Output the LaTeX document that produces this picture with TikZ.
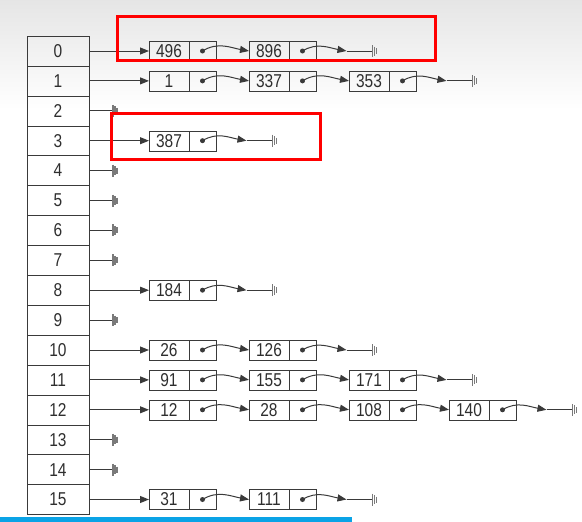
\documentclass[tikz,border=0pt]{standalone}
\usepackage{fontspec}
\usepackage{graphicx}
\setmainfont{Liberation Sans}
\usetikzlibrary{arrows.meta, positioning, calc}
\definecolor{linegray}{HTML}{3A3A3A}
\definecolor{textgray}{HTML}{2E2E2E}
\definecolor{nullgray}{HTML}{7A7A7A}
\definecolor{barblue}{HTML}{0AA3E6}
\newcommand{\tallnum}[1]{\scalebox{1}[1.2]{#1}}

\begin{document}
\begin{tikzpicture}[
        x=1pt, y=-1pt,
        cell/.style = {rectangle, draw=linegray, minimum width=62pt, minimum height=29.9pt,
                       inner sep=0pt, outer sep=0pt, text=textgray, font=\fontsize{15.5}{15.5}\selectfont},
        valbox/.style = {rectangle, draw=linegray, minimum width=40pt, minimum height=20pt,
                         inner sep=0pt, outer sep=0pt, text=textgray, font=\fontsize{15.5}{15.5}\selectfont},
        ptrbox/.style = {rectangle, draw=linegray, minimum width=27pt, minimum height=20pt,
                         inner sep=0pt, outer sep=0pt},
        link/.style = {draw=linegray, line width=1pt, -{Triangle[length=9pt, width=7pt]}},
        wire/.style = {draw=linegray, line width=1pt},
        nullend/.pic = {
            \draw[nullgray, line width=1.5pt] (0,-6) -- (0,6) (2,-4.5) -- (2,4.5) (4,-3) -- (4,3);
        }
    ]
    \useasboundingbox (0,0) rectangle (582,522);

    %Hintergrund
    \shade[top color=black!10, bottom color=white, draw=none] (0,0) rectangle (582,110);
    \fill[barblue] (0,517) rectangle (352,522);

    %Tabelle
    \foreach \r in {0,...,15}
        \node[cell] (cell\r) at (58, {51+29.9*\r}) {\tallnum{\r}};

    %Listen
    \foreach \r/\n/\vals in {0/2/{496,896}, 1/3/{1,337,353}, 3/1/{387}, 8/1/{184},
                             10/2/{26,126}, 11/3/{91,155,171}, 12/4/{12,28,108,140}, 15/2/{31,111}} {
        \foreach \v [count=\i, remember=\i as \prev (initially 0)] in \vals {
            \node[valbox] (v\r-\i) at ({69+100*\i}, {51+29.9*\r}) {\tallnum{\v}};
            \node[ptrbox, right=0pt of v\r-\i] (p\r-\i) {};
            \fill[linegray] (p\r-\i.center) circle (2.5pt);
            \ifnum\i=1
                \draw[link] (cell\r.east) -- (v\r-\i.west);
            \else
                \draw[link] (p\r-\prev.center) to[out=32, in=170] (v\r-\i.west);
            \fi
        }
        \coordinate (t\r) at ($(p\r-\n.center)+(44,0)$);
        \coordinate (g\r) at ($(p\r-\n.center)+(70,0)$);
        \draw[link] (p\r-\n.center) to[out=32, in=170] (t\r);
        \draw[wire] (t\r) -- (g\r);
        \pic at (g\r) {nullend};
    }

    %leere Zeilen
    \foreach \r in {2,4,5,6,7,9,13,14} {
        \coordinate (g\r) at ($(cell\r.east)+(24,0)$);
        \draw[wire] (cell\r.east) -- (g\r);
        \pic at (g\r) {nullend};
    }

    %Markierungen
    \draw[red, line width=3pt] (117,16) rectangle (435,60);
    \draw[red, line width=3pt] (111,113) rectangle (320,159);
\end{tikzpicture}
\end{document}
